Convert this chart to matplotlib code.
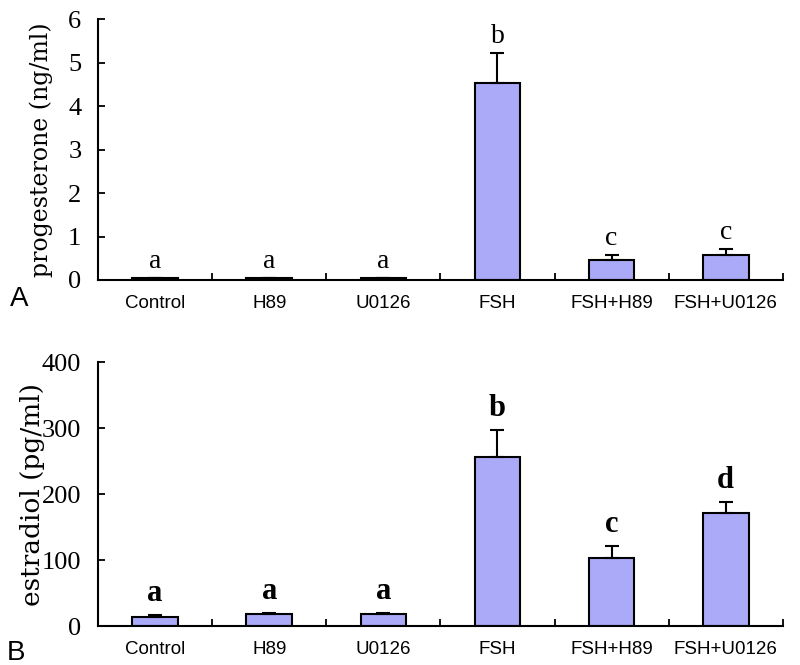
import matplotlib
matplotlib.use("Agg")
import matplotlib.pyplot as plt
import numpy as np

categories = ["Control", "H89", "U0126", "FSH", "FSH+H89", "FSH+U0126"]
prog_mean = [0.04, 0.04, 0.04, 4.53, 0.46, 0.57]
prog_err = [0.0, 0.0, 0.0, 0.69, 0.11, 0.14]
prog_letters = ["a", "a", "a", "b", "c", "c"]
estr_mean = [13, 18, 18, 256, 103, 171]
estr_err = [4, 2, 2, 41, 18, 17]
estr_letters = ["a", "a", "a", "b", "c", "d"]

bar_color = "#AAAAF8"
fig = plt.figure(figsize=(8, 6.65), dpi=100)
axA = fig.add_axes([0.1225, 0.579, 0.856, 0.392])
axB = fig.add_axes([0.1225, 0.0586, 0.856, 0.397])

x = np.arange(len(categories))

def style(ax, ymax, yticks, tickfs, ylabel, labfs, labx):
    ax.set_xlim(-0.5, len(categories) - 0.5)
    ax.set_ylim(0, ymax)
    ax.spines["top"].set_visible(False)
    ax.spines["right"].set_visible(False)
    for s in ("left", "bottom"):
        ax.spines[s].set_linewidth(1.5)
    ax.set_yticks(yticks)
    ax.set_yticklabels([str(t) for t in yticks], family="Liberation Serif", fontsize=tickfs)
    ax.tick_params(axis="y", direction="in", length=5, width=1.3, pad=12)
    ax.set_xticks(x)
    ax.set_xticklabels(categories, family="Liberation Sans", fontsize=13.5)
    ax.tick_params(axis="x", which="major", length=0, pad=11)
    ax.set_xticks(np.arange(0.5, len(categories), 1.0), minor=True)
    ax.tick_params(axis="x", which="minor", direction="in", length=5, width=1.3)
    ax.set_ylabel(ylabel, family="DejaVu Serif", fontsize=labfs)
    ax.yaxis.set_label_coords(labx, 0.5)

# Panel A
axA.bar(x, prog_mean, width=0.4, color=bar_color, edgecolor="black", linewidth=1.5, zorder=2)
axA.errorbar(x, prog_mean, yerr=[np.zeros(len(x)), prog_err], fmt="none", ecolor="black",
             elinewidth=1.5, capsize=5, capthick=1.5, zorder=3)
for xi, m, e, l in zip(x, prog_mean, prog_err, prog_letters):
    axA.annotate(l, (xi, m + e), xytext=(0, 3), textcoords="offset points", ha="center",
                 va="bottom", family="Liberation Serif", fontsize=20)
style(axA, 6, [0, 1, 2, 3, 4, 5, 6], 19, "progesterone (ng/ml)", 17, -0.066)

# Panel B
axB.bar(x, estr_mean, width=0.4, color=bar_color, edgecolor="black", linewidth=1.5, zorder=2)
axB.errorbar(x, estr_mean, yerr=[np.zeros(len(x)), estr_err], fmt="none", ecolor="black",
             elinewidth=1.5, capsize=5, capthick=1.5, zorder=3)
for xi, m, e, l in zip(x, estr_mean, estr_err, estr_letters):
    axB.annotate(l, (xi, m + e), xytext=(0, 5), textcoords="offset points", ha="center",
                 va="bottom", family="Liberation Serif", fontsize=22, fontweight="bold")
style(axB, 400, [0, 100, 200, 300, 400], 19, "estradiol (pg/ml)", 19, -0.078)

fig.text(0.012, 0.54, "A", family="Liberation Sans", fontsize=20, va="baseline")
fig.text(0.008, 0.008, "B", family="Liberation Sans", fontsize=20, va="baseline")

fig.savefig("out.png", dpi=100)
